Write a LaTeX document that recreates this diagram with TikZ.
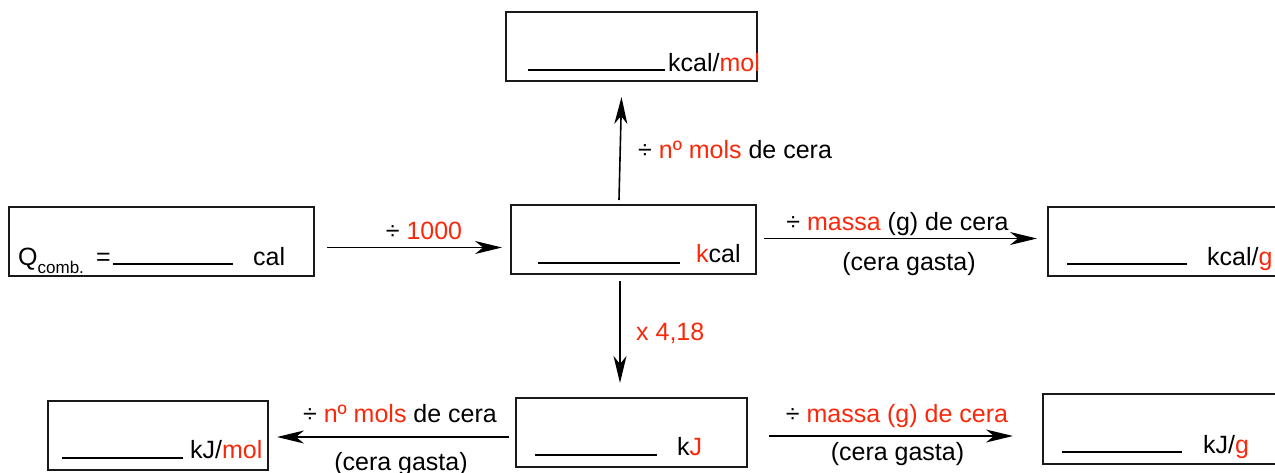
\documentclass[tikz,border=0pt]{standalone}
\usepackage{fontspec}
\setmainfont{Liberation Sans}
\usetikzlibrary{arrows.meta}
\definecolor{hl}{RGB}{250,40,10}
\newcommand{\hl}[1]{\textcolor{hl}{#1}}
\begin{document}
\begin{tikzpicture}[x=1pt,y=-1pt,
  box/.style={draw=black!90, line width=1.6pt, rectangle, inner sep=0pt},
  txt/.style={inner sep=0pt, anchor=base west, font=\fontsize{25}{30}\selectfont},
  lbl/.style={inner sep=0pt, anchor=base, font=\fontsize{25}{30}\selectfont},
  uline/.style={line width=2pt},
  arr/.style={line width=1.6pt, -{Stealth[length=27pt,width=13pt,inset=8pt]}}]
\useasboundingbox (0,0) rectangle (1275,472);
\clip (0,0) rectangle (1275,472);
% boxes
\node[box, minimum width=251pt, minimum height=69pt] (top) at (631.5,46.5) {};
\node[box, minimum width=305pt, minimum height=69pt] (left) at (161.5,241.5) {};
\node[box, minimum width=245pt, minimum height=69pt] (center) at (633.5,239.5) {};
\node[box, minimum width=240pt, minimum height=69pt] (right) at (1168,241.5) {};
\node[box, minimum width=220pt, minimum height=69pt] (botleft) at (158,435.5) {};
\node[box, minimum width=231pt, minimum height=69pt] (botcenter) at (631.5,432.5) {};
\node[box, minimum width=245pt, minimum height=70pt] (botright) at (1165.5,429) {};
% underlines
\draw[uline] (528,70) -- (665,70);
\draw[uline] (113,263.5) -- (233,263.5);
\draw[uline] (538,263) -- (680,263);
\draw[uline] (1067,264) -- (1187,264);
\draw[uline] (62,458) -- (183,458);
\draw[uline] (535,455) -- (657,455);
\draw[uline] (1062,452) -- (1182,452);
% box texts
\node[txt] (ttop) at (668,71) {kcal/\hl{mol}};
\node[txt] (tq) at (18,265) {Q\raisebox{-8pt}{\fontsize{17}{20}\selectfont comb.}};
\node[txt] (teq) at (96,265) {=};
\node[txt] (tcal) at (253,265) {cal};
\node[txt] (tcenter) at (696,262) {\hl{k}cal};
\node[txt] (tright) at (1207,265) {kcal/\hl{g}};
\node[txt] (tbotleft) at (190,458) {kJ/\hl{mol}};
\node[txt] (tbotcenter) at (677,455) {k\hl{J}};
\node[txt] (tbotright) at (1203,453) {kJ/\hl{g}};
% arrow end points
\coordinate (a1s) at (327,247.5); \coordinate (a1e) at (502,247.5);
\coordinate (aus) at (619,200);   \coordinate (aue) at (621.5,97);
\coordinate (ars) at (764,238.5); \coordinate (are) at (1037,238.5);
\coordinate (ads) at (620,281);   \coordinate (ade) at (620,383);
\coordinate (abls) at (509,437);  \coordinate (able) at (277,437);
\coordinate (abrs) at (769,436);  \coordinate (abre) at (1013,436);
\draw[arr] (a1s) -- (a1e);
\draw[arr] (aus) -- (aue);
\draw[arr] (ars) -- (are);
\draw[arr] (ads) -- (ade);
\draw[arr] (abls) -- (able);
\draw[arr] (abrs) -- (abre);
% labels
\node[lbl] (l1) at (424,239) {÷ \hl{1000}};
\node[txt] (lu) at (638,158) {÷ \hl{nº mols} de cera};
\node[lbl] (lr1) at (897.5,230) {÷ \hl{massa} (g) de cera};
\node[lbl] (lr2) at (909,270) {(cera gasta)};
\node[txt] (ld) at (636,340) {\hl{x 4,18}};
\node[lbl] (lbl1) at (400,422) {÷ \hl{nº mols} de cera};
\node[lbl] (lbl2) at (401,470) {(cera gasta)};
\node[lbl] (lbr1) at (897,422) {÷ \hl{massa (g) de cera}};
\node[lbl] (lbr2) at (897.5,460) {(cera gasta)};
\end{tikzpicture}
\end{document}
